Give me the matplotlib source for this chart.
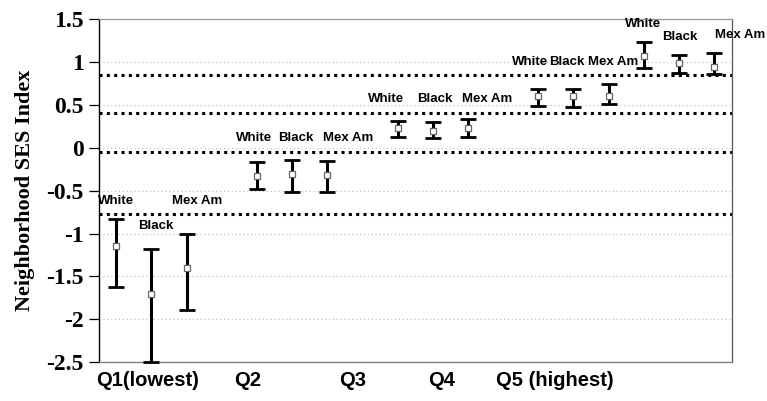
import matplotlib
matplotlib.use("Agg")
import matplotlib.pyplot as plt
import numpy as np

# neighborhood SES index by quintile and race/ethnicity (mean and 95% CI)
groups = ["White", "Black", "Mex Am"]
quintiles = ["Q1(lowest)", "Q2", "Q3", "Q4", "Q5 (highest)"]
xpos = [1, 2, 3, 5, 6, 7, 9, 10, 11, 13, 14, 15, 16, 17, 18]
means = [-1.14, -1.70, -1.40, -0.33, -0.31, -0.32, 0.23, 0.20, 0.23,
         0.60, 0.60, 0.60, 1.075, 0.985, 0.945]
upper = [-0.83, -1.18, -1.01, -0.16, -0.14, -0.15, 0.315, 0.30, 0.335,
         0.69, 0.69, 0.74, 1.24, 1.08, 1.11]
lower = [-1.62, -2.50, -1.89, -0.48, -0.51, -0.51, 0.128, 0.117, 0.128,
         0.49, 0.48, 0.51, 0.935, 0.876, 0.857]
cutoffs = [-0.775, -0.045, 0.405, 0.855]

# where the group names sit
label_x = [1.0, 2.14, 3.29, 4.92, 6.10, 7.59, 8.67, 10.05, 11.55,
           12.76, 13.81, 15.13, 15.97, 17.02, 18.73]
label_y = [-0.62, -0.915, -0.62, 0.12, 0.12, 0.12, 0.565, 0.565, 0.565,
           1.0, 1.0, 1.0, 1.45, 1.295, 1.315]
quint_x = [1.9, 4.75, 7.73, 10.26, 13.47]

fig = plt.figure(figsize=(7.67, 4.01), dpi=100)
ax = fig.add_axes([0.129, 0.097, 0.825, 0.855])

means = np.array(means)
yerr = [means - np.array(lower), np.array(upper) - means]

for c in cutoffs:
    ax.axhline(c, color="black", lw=2.2, ls=(0, (1, 1.4)), zorder=1)

ax.errorbar(xpos, means, yerr=yerr, fmt="none", ecolor="black",
            elinewidth=2.2, capsize=5.5, capthick=2.0, zorder=3, clip_on=False)
ax.plot(xpos, means, ls="none", marker="s", ms=5, mfc="white",
        mec="#666666", mew=0.9, zorder=4)

for i in range(len(xpos)):
    ax.text(label_x[i], label_y[i], groups[i % 3], ha="center", va="center",
            fontsize=9.5, fontweight="bold", family="Liberation Sans",
            clip_on=False)

for qx, q in zip(quint_x, quintiles):
    ax.text(qx, -2.72, q, ha="center", va="center", fontsize=14.5,
            fontweight="bold", family="Liberation Sans")

ax.set_xlim(0.51, 18.5)
ax.set_ylim(-2.5, 1.5)
ax.set_yticks(np.arange(-2.5, 1.51, 0.5))
ax.set_yticklabels(["-2.5", "-2", "-1.5", "-1", "-0.5", "0", "0.5", "1", "1.5"],
                   family="Liberation Serif", fontweight="bold", fontsize=17)
ax.set_xticks([])
ax.yaxis.grid(True, color="#bbbbbb", lw=0.8, ls=(0, (1, 2.5)))
ax.set_axisbelow(True)
ax.tick_params(axis="y", direction="out", length=7, width=0.9, pad=4)

ax.spines["left"].set_color("black")
ax.spines["left"].set_linewidth(1.0)
ax.spines["bottom"].set_color("#777777")
ax.spines["top"].set_color("#999999")
ax.spines["right"].set_color("#555555")
for s in ["bottom", "top", "right"]:
    ax.spines[s].set_linewidth(0.9)

ax.set_ylabel("Neighborhood SES Index", family="Liberation Serif",
              fontweight="bold", fontsize=16, labelpad=8)

fig.savefig("out.png", dpi=100)
